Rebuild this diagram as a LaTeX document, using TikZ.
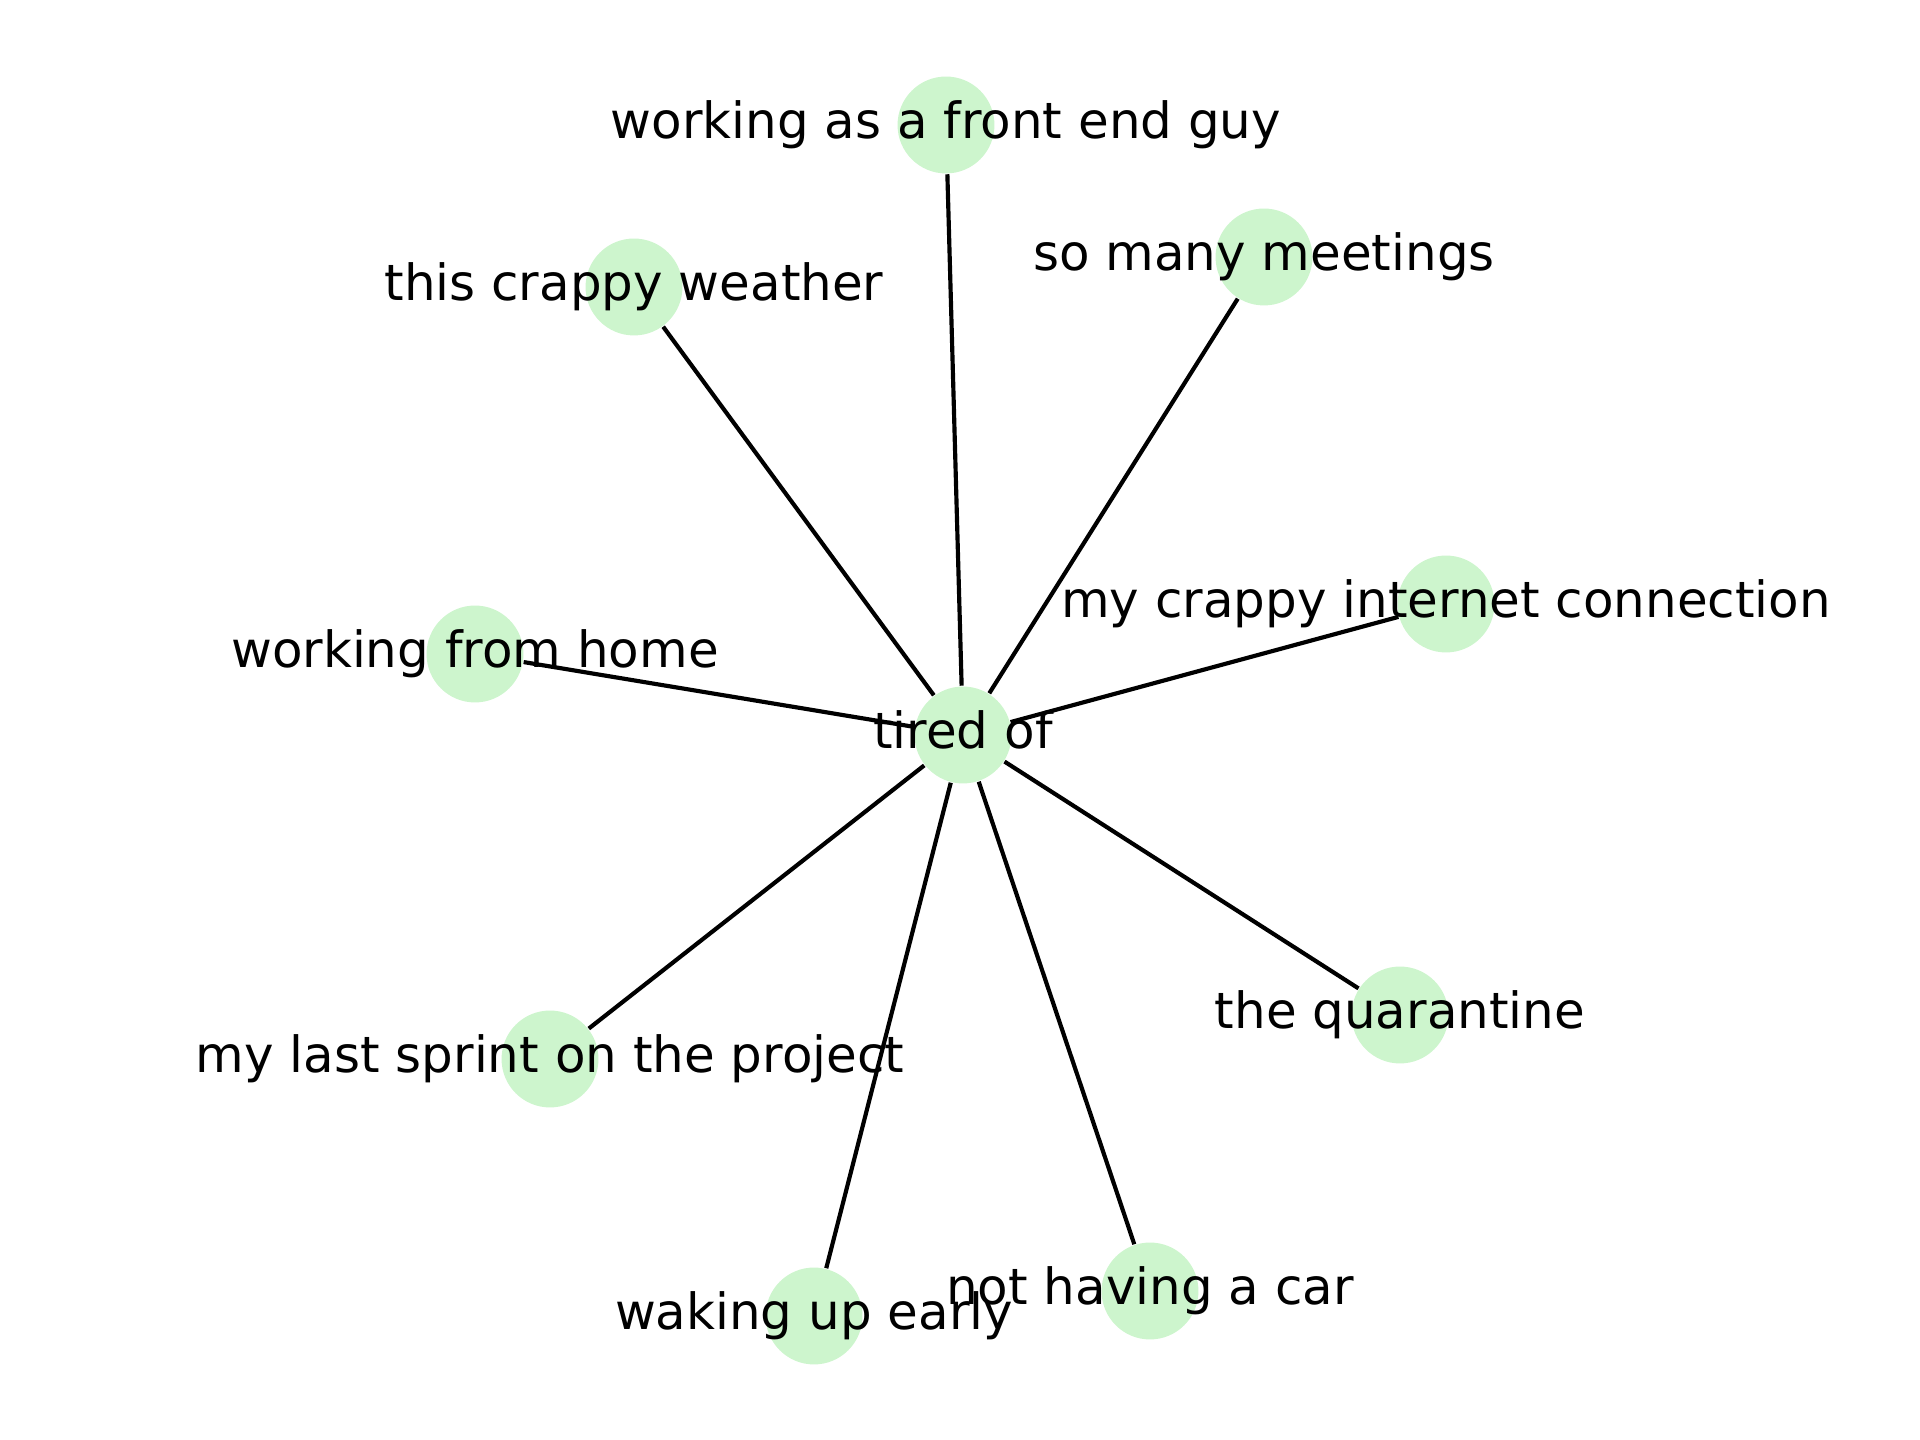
\documentclass[tikz,border=0pt]{standalone}
\usepackage{fontspec}
\setmainfont{DejaVu Sans}
\definecolor{nodegreen}{RGB}{205,245,205}
\begin{document}
\begin{tikzpicture}[x=0.003333in,y=-0.003333in,
  dot/.style={circle,fill=nodegreen,draw=none,minimum size=23.3pt,inner sep=0pt},
  lbl/.style={anchor=base,inner sep=0pt,font=\fontsize{12pt}{14pt}\selectfont},
  edge/.style={draw=black,line width=1pt}]
\useasboundingbox (0,0) rectangle (1920,1440);
% circles
\node[dot] (c)  at (963,735) {};
\node[dot] (n1) at (946,125) {};
\node[dot] (n2) at (634,287) {};
\node[dot] (n3) at (1264,257) {};
\node[dot] (n4) at (475,654) {};
\node[dot] (n5) at (1446,604) {};
\node[dot] (n6) at (550,1059) {};
\node[dot] (n7) at (814,1316) {};
\node[dot] (n8) at (1150,1291) {};
\node[dot] (n9) at (1400,1015) {};
% edges
\foreach \n in {n1,n2,n3,n4,n5,n6,n7,n8,n9}
  \draw[edge] (c) -- (\n);
% labels
\node[lbl] (lc) at ([yshift=-14*0.003333in]c.center) {tired of};
\node[lbl] (l1) at ([yshift=-14*0.003333in]n1.center) {working as a front end guy};
\node[lbl] (l2) at ([yshift=-14*0.003333in]n2.center) {this crappy weather};
\node[lbl] (l3) at ([yshift=-14*0.003333in]n3.center) {so many meetings};
\node[lbl] (l4) at ([yshift=-14*0.003333in]n4.center) {working from home};
\node[lbl] (l5) at ([yshift=-14*0.003333in]n5.center) {my crappy internet connection};
\node[lbl] (l6) at ([yshift=-14*0.003333in]n6.center) {my last sprint on the project};
\node[lbl] (l7) at ([yshift=-14*0.003333in]n7.center) {waking up early};
\node[lbl] (l8) at ([yshift=-14*0.003333in]n8.center) {not having a car};
\node[lbl] (l9) at ([yshift=-14*0.003333in]n9.center) {the quarantine};
\end{tikzpicture}
\end{document}
